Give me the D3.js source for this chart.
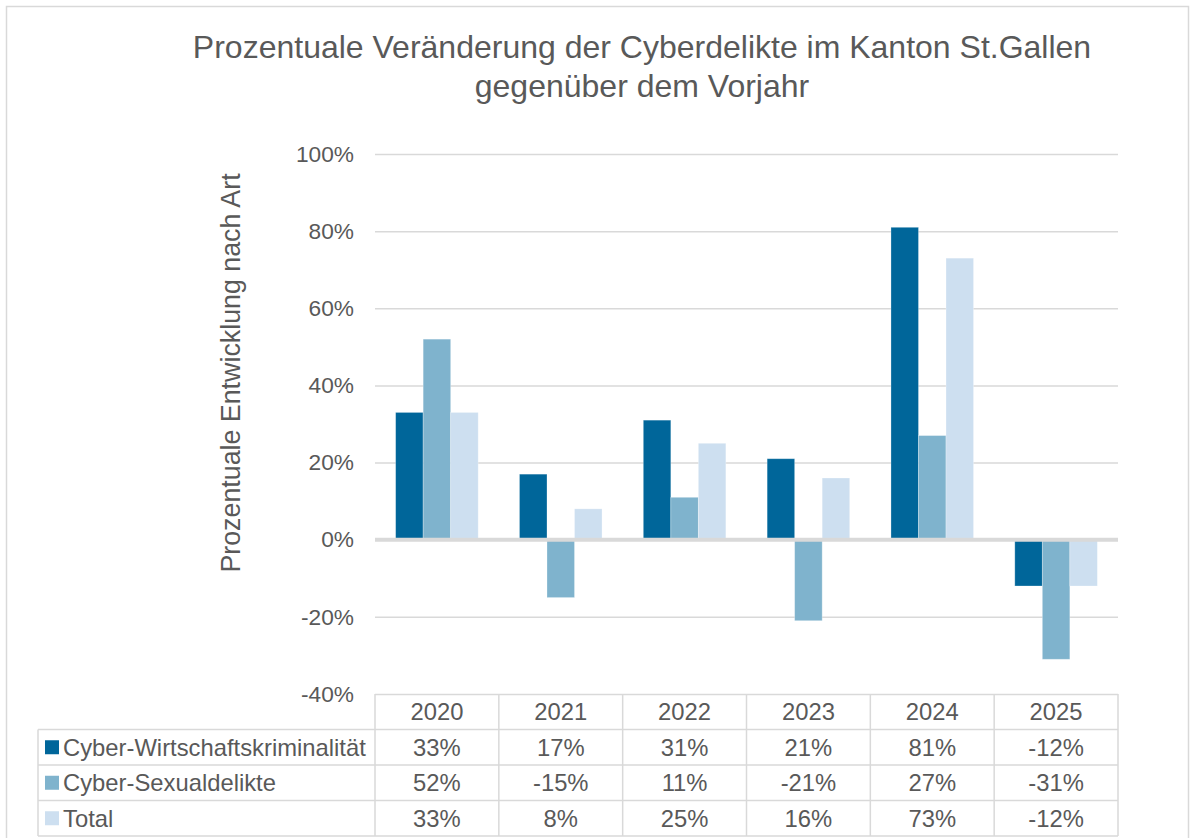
<!DOCTYPE html>
<html>
<head>
<meta charset="utf-8">
<script src="https://cdn.jsdelivr.net/npm/d3@7"></script>
<style>
  body { margin: 0; background: #fff; }
  svg { display: block; font-family: "Liberation Sans", Arial, sans-serif; }
</style>
</head>
<body>
<svg width="1190" height="838"></svg>
<script>
"use strict";
const years = ["2020", "2021", "2022", "2023", "2024", "2025"];
const seriesNames = ["Cyber-Wirtschaftskriminalität", "Cyber-Sexualdelikte", "Total"];
const wirtschaft = [0.33, 0.17, 0.31, 0.21, 0.81, -0.12];
const sexual = [0.52, -0.15, 0.11, -0.21, 0.27, -0.31];
const total = [0.33, 0.08, 0.25, 0.16, 0.73, -0.12];
const yTicks = [-0.4, -0.2, 0, 0.2, 0.4, 0.6, 0.8, 1.0];
const colors = ["#00669a", "#7fb3cd", "#cddff0"];

const seriesValues = [wirtschaft, sexual, total];
const textColor = "#595959";
const gridColor = "#d9d9d9";

// percent with a plain hyphen for negatives, like the original
const pct = d => d3.format(".0%")(d).replace("\u2212", "-");

const svg = d3.select("svg");

// outer frame
svg.append("rect")
    .attr("x", 6.5).attr("y", 6.5)
    .attr("width", 1182).attr("height", 840)
    .attr("fill", "none")
    .attr("stroke", "#d9d9d9")
    .attr("stroke-width", 1.5);

const plot = { left: 375, right: 1118, top: 154, bottom: 694 };

const y = d3.scaleLinear()
    .domain([-0.4, 1.0])
    .range([plot.bottom, plot.top]);

const x = d3.scaleBand()
    .domain(years)
    .range([plot.left, plot.right])
    .padding(0);

const x1 = d3.scaleBand()
    .domain(seriesNames)
    .range([0, x.bandwidth()])
    .paddingInner(0)
    .paddingOuter(0.75);

// title
const title = svg.append("text")
    .attr("text-anchor", "middle")
    .attr("fill", textColor)
    .style("font-size", "32px");
title.append("tspan").attr("x", 642).attr("y", 58)
    .text("Prozentuale Veränderung der Cyberdelikte im Kanton St.Gallen");
title.append("tspan").attr("x", 642).attr("y", 97)
    .text("gegenüber dem Vorjahr");

// y axis label
svg.append("text")
    .attr("transform", "translate(240,373) rotate(-90)")
    .attr("text-anchor", "middle")
    .attr("fill", textColor)
    .style("font-size", "26.8px")
    .text("Prozentuale Entwicklung nach Art");

// gridlines + tick labels
const yAxis = svg.append("g")
    .attr("transform", `translate(${plot.left},0)`)
    .call(d3.axisLeft(y)
        .tickValues(yTicks)
        .tickSize(-(plot.right - plot.left))
        .tickPadding(21)
        .tickFormat(pct));
yAxis.select(".domain").remove();
yAxis.selectAll(".tick line")
    .attr("stroke", gridColor)
    .attr("stroke-width", 1.5);
yAxis.selectAll(".tick text")
    .attr("fill", textColor)
    .style("font-size", "22.7px")
    .style("font-family", "'Liberation Sans', Arial, sans-serif");

// bars
const groups = svg.append("g")
    .selectAll("g")
    .data(years)
    .join("g")
    .attr("transform", d => `translate(${x(d)},0)`);

groups.selectAll("rect")
    .data((yr, i) => seriesNames.map((s, k) => ({ s, k, v: seriesValues[k][i] })))
    .join("rect")
    .attr("x", d => x1(d.s))
    .attr("width", x1.bandwidth())
    .attr("y", d => y(Math.max(0, d.v)))
    .attr("height", d => Math.abs(y(d.v) - y(0)))
    .attr("fill", d => colors[d.k])
    .attr("stroke", "#ffffff")
    .attr("stroke-opacity", 0.35)
    .attr("stroke-width", 0.8);

// zero line
svg.append("line")
    .attr("x1", plot.left).attr("x2", plot.right)
    .attr("y1", y(0)).attr("y2", y(0))
    .attr("stroke", gridColor)
    .attr("stroke-width", 4);

// data table
const rowH = 35.5;
const tableTop = plot.bottom;
const legendLeft = 38;
const tableFont = "23.8px";
const table = svg.append("g");
const tableBottom = tableTop + rowH * 4;

// vertical lines
const edges = years.map(d => x(d)).concat([plot.right]);
table.selectAll("line.v")
    .data(edges)
    .join("line")
    .attr("class", "v")
    .attr("x1", d => d).attr("x2", d => d)
    .attr("y1", tableTop).attr("y2", tableBottom)
    .attr("stroke", gridColor)
    .attr("stroke-width", 1.5);
table.append("line")
    .attr("x1", legendLeft).attr("x2", legendLeft)
    .attr("y1", tableTop + rowH).attr("y2", tableBottom)
    .attr("stroke", gridColor)
    .attr("stroke-width", 1.5);

// horizontal lines
table.selectAll("line.h")
    .data([1, 2, 3, 4])
    .join("line")
    .attr("class", "h")
    .attr("x1", legendLeft).attr("x2", plot.right)
    .attr("y1", d => tableTop + rowH * d).attr("y2", d => tableTop + rowH * d)
    .attr("stroke", gridColor)
    .attr("stroke-width", 1.5);

// year header
table.selectAll("text.year")
    .data(years)
    .join("text")
    .attr("class", "year")
    .attr("x", d => x(d) + x.bandwidth() / 2)
    .attr("y", tableTop + rowH / 2)
    .attr("dy", "0.36em")
    .attr("text-anchor", "middle")
    .attr("fill", textColor)
    .style("font-size", tableFont)
    .text(d => d);

seriesNames.forEach((name, k) => {
    const cy = tableTop + rowH * (k + 1) + rowH / 2;
    table.append("rect")
        .attr("x", 45).attr("y", cy - 7)
        .attr("width", 14).attr("height", 14)
        .attr("fill", colors[k]);
    table.append("text")
        .attr("x", 63).attr("y", cy)
        .attr("dy", "0.36em")
        .attr("fill", textColor)
        .style("font-size", tableFont)
        .text(name);
    table.selectAll(null)
        .data(seriesValues[k])
        .join("text")
        .attr("x", (d, i) => x(years[i]) + x.bandwidth() / 2)
        .attr("y", cy)
        .attr("dy", "0.36em")
        .attr("text-anchor", "middle")
        .attr("fill", textColor)
        .style("font-size", tableFont)
        .text(d => pct(d));
});
</script>
</body>
</html>
